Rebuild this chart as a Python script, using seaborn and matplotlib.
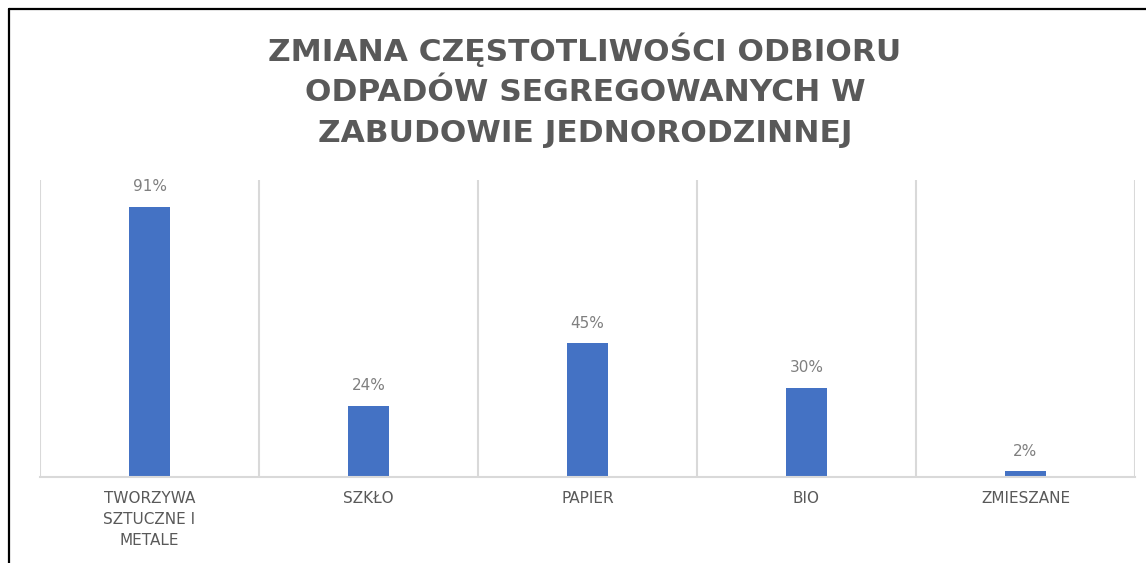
import matplotlib
matplotlib.use("Agg")
import matplotlib.pyplot as plt
import seaborn as sns
from matplotlib.lines import Line2D

categories = ["TWORZYWA\nSZTUCZNE I\nMETALE", "SZKŁO", "PAPIER", "BIO", "ZMIESZANE"]
values = [91, 24, 45, 30, 2]
title = "ZMIANA CZĘSTOTLIWOŚCI ODBIORU\nODPADÓW SEGREGOWANYCH W\nZABUDOWIE JEDNORODZINNEJ"

sns.set_theme(style="white")
plt.rcParams['font.family'] = ['DejaVu Sans']

W, H = 1146, 563
fig = plt.figure(figsize=(W / 100, H / 100), dpi=100)
fig.patch.set_facecolor("white")
ax = fig.add_axes([40 / W, (H - 477) / H, 1095 / W, 297 / H])

sns.barplot(x=categories, y=values, color="#4472C4", width=0.185, ax=ax,
            saturation=1, edgecolor="#4472C4", linewidth=0)
ax.set_ylim(0, 100)
ax.set_xlim(-0.5, len(categories) - 0.5)
ax.set_yticks([])
ax.set_xlabel("")
ax.set_ylabel("")

# category separators
ax.set_xticks([i - 0.5 for i in range(len(categories) + 1)], minor=True)
ax.grid(True, which="minor", axis="x", color="#d9d9d9", linewidth=1.5)
ax.tick_params(axis="x", which="both", length=0, pad=10)
ax.tick_params(axis="x", which="major", labelsize=11, labelcolor="#595959")
for lbl in ax.get_xticklabels():
    lbl.set_linespacing(1.5)
for s in ["top", "left", "right"]:
    ax.spines[s].set_visible(False)
ax.spines["bottom"].set_color("#d9d9d9")
ax.spines["bottom"].set_linewidth(1.5)

for c in ax.containers:
    ax.bar_label(c, labels=[f"{v}%" for v in values], padding=9,
                 fontsize=11, color="#7f7f7f")

fig.text(585 / W, (H - 90) / H, title, ha="center", va="center",
         fontsize=22.5, fontweight="bold", color="#595959", linespacing=1.5)

# outer frame (left and top edges visible)
fig.add_artist(Line2D([8.5 / W, 8.5 / W], [0, (H - 8.5) / H], transform=fig.transFigure,
                      color="black", linewidth=1.6))
fig.add_artist(Line2D([8.5 / W, 1], [(H - 8.5) / H, (H - 8.5) / H], transform=fig.transFigure,
                      color="black", linewidth=1.6))

fig.savefig("out.png", dpi=100)
